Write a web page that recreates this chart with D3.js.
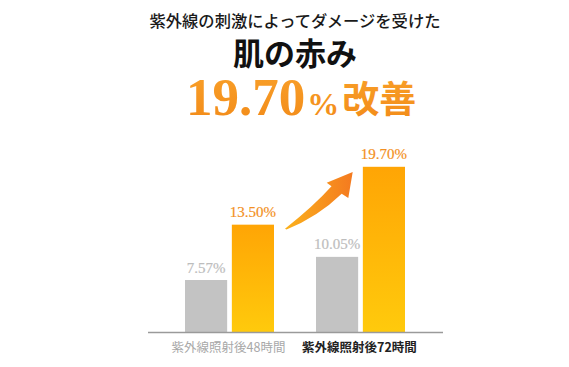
<!DOCTYPE html>
<html><head><meta charset="utf-8">
<script src="https://cdn.jsdelivr.net/npm/d3@7"></script>
<style>html,body{margin:0;padding:0;background:#fff;}svg{display:block;}</style>
</head><body>
<svg id="c" width="569" height="367"></svg>
<script>
const categories = ["紫外線照射後48時間", "紫外線照射後72時間"];
const seriesNames = ["gray", "orange"];
const grayValues = [7.57, 10.05];
const orangeValues = [13.50, 19.70];
const valueLabels = [["7.57%", "13.50%"], ["10.05%", "19.70%"]];
const titleLine1 = "紫外線の刺激によってダメージを受けた";
const titleLine2 = "肌の赤み";
const headlineNumber = "19.70";
const headlineSuffix = ["%", "改善"];

const svg = d3.select("#c");
const defs = svg.append("defs");

const gBar = defs.append("linearGradient").attr("id","barGrad").attr("x1",0).attr("y1",0).attr("x2",0).attr("y2",1);
gBar.append("stop").attr("offset","0%").attr("stop-color","#ffa505");
gBar.append("stop").attr("offset","100%").attr("stop-color","#ffca0c");

const gTxt = defs.append("linearGradient").attr("id","txtGrad").attr("x1",0).attr("y1",0).attr("x2",0).attr("y2",1);
gTxt.append("stop").attr("offset","0%").attr("stop-color","#f9a12a");
gTxt.append("stop").attr("offset","100%").attr("stop-color","#f28a18");

const gArr = defs.append("linearGradient").attr("id","arrGrad").attr("x1",0).attr("y1",0).attr("x2",1).attr("y2",0);
gArr.append("stop").attr("offset","0%").attr("stop-color","#fbb11c");
gArr.append("stop").attr("offset","100%").attr("stop-color","#f47a20");

const baseline = 332;
const x = d3.scaleBand().domain(categories).range([164, 426]).paddingInner(0).paddingOuter(0);
const xs = d3.scaleBand().domain(seriesNames).range([-44.5, 44.5]).paddingInner(0.1).paddingOuter(0);
const y = d3.scaleLinear().domain([2.0, 19.7]).range([baseline, 166.8]);

const data = categories.map((c, i) => ({
  cat: c,
  vals: [{s:"gray", v:grayValues[i], label:valueLabels[i][0]}, {s:"orange", v:orangeValues[i], label:valueLabels[i][1]}]
}));

const groups = svg.selectAll("g.grp").data(data).join("g")
  .attr("transform", d => `translate(${x(d.cat) + x.bandwidth()/2},0)`);

groups.selectAll("rect").data(d => d.vals).join("rect")
  .attr("x", d => xs(d.s))
  .attr("width", xs.bandwidth())
  .attr("y", d => y(d.v))
  .attr("height", d => baseline - y(d.v))
  .attr("fill", d => d.s === "gray" ? "#c3c3c3" : "url(#barGrad)");

groups.selectAll("text.val").data(d => d.vals).join("text")
  .attr("class","val")
  .attr("x", d => xs(d.s) + xs.bandwidth()/2)
  .attr("y", d => y(d.v) - 7.5)
  .attr("text-anchor","middle")
  .attr("font-family","'Liberation Serif','DejaVu Serif',serif")
  .attr("font-size", 15)
  .attr("stroke", d => d.s === "gray" ? "#bdbdbd" : "#f39022")
  .attr("stroke-width", 0.2)
  .attr("fill", d => d.s === "gray" ? "#bdbdbd" : "#f39022")
  .text(d => d.label);

// axis line
svg.append("line").attr("x1",148).attr("x2",443).attr("y1",baseline+0.5).attr("y2",baseline+0.5)
  .attr("stroke","#9a9a9a").attr("stroke-width",1.5);

// category labels
svg.selectAll("text.cat").data(categories).join("text")
  .attr("class","cat")
  .attr("x", d => x(d) + x.bandwidth()/2 - 1)
  .attr("y", 352)
  .attr("text-anchor","middle")
  .attr("font-family","'Noto Sans CJK JP',sans-serif")
  .attr("font-size", 12.5)
  .attr("font-weight", (d,i) => i === 0 ? 400 : 700)
  .attr("fill", (d,i) => i === 0 ? "#a8a8a8" : "#222")
  .text(d => d);

// arrow, anchored between the two orange bars
const ax = x(categories[0]) + x.bandwidth()/2 + xs("orange") + xs.bandwidth() + 11;
const ay = y(orangeValues[0]) + 4;
const arrowPath = `M0,0 Q29,-23 46.5,-42.5 L41.7,-46 L67.7,-56.7 L63.3,-30.7 L56.7,-35 Q33,-12 1.5,0.8 Z`;
svg.append("path").attr("d", arrowPath).attr("transform",`translate(${ax},${ay})`).attr("fill","url(#arrGrad)");

// titles
svg.append("text").attr("x",295).attr("y",27).attr("text-anchor","middle")
  .attr("font-family","'Noto Sans CJK JP',sans-serif").attr("font-size",16.3).attr("font-weight",500)
  .attr("fill","#1a1a1a").text(titleLine1);

svg.append("text").attr("x",295).attr("y",65).attr("text-anchor","middle")
  .attr("font-family","'Noto Sans CJK JP',sans-serif").attr("font-size",31).attr("font-weight",700)
  .attr("fill","#111").text(titleLine2);

const head = svg.append("text").attr("x",186).attr("y",115).attr("fill","url(#txtGrad)");
head.append("tspan").attr("font-family","'Liberation Serif',serif").attr("font-weight",700).attr("font-size",53).text(headlineNumber);
head.append("tspan").attr("dx",2).attr("font-family","'Liberation Serif',serif").attr("font-weight",700).attr("font-size",32).text(headlineSuffix[0]);
head.append("tspan").attr("dx",3).attr("dy",-2).attr("font-family","'Noto Sans CJK JP',sans-serif").attr("font-weight",700).attr("font-size",37).text(headlineSuffix[1]);
</script>
</body></html>
